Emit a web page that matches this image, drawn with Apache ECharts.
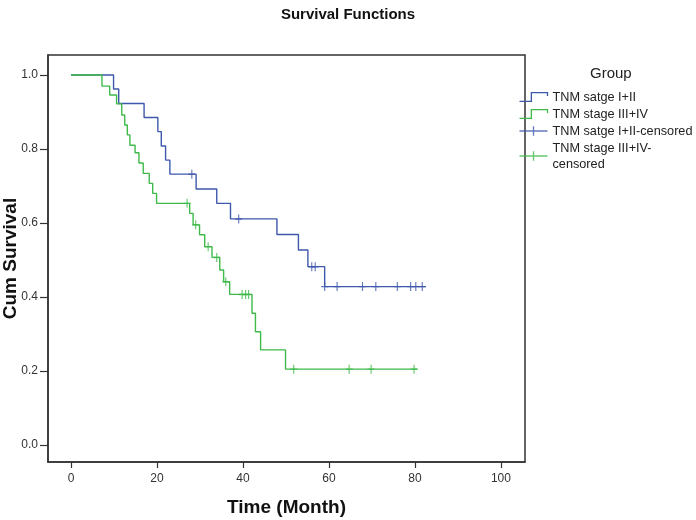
<!DOCTYPE html>
<html>
<head>
<meta charset="utf-8">
<script src="https://cdn.jsdelivr.net/npm/echarts@6/dist/echarts.min.js"></script>
<style>
html,body{margin:0;padding:0;background:#fff;}
#chart{width:696px;height:520px;}
</style>
</head>
<body>
<div id="chart"></div>
<script>
// ---- data ----
const xTicks = [0, 20, 40, 60, 80, 100];
const yTicks = [0, 0.2, 0.4, 0.6, 0.8, 1.0];

const nameA = 'TNM satge I+II';
const nameB = 'TNM stage III+IV';
const nameAc = 'TNM satge I+II-censored';
const nameBc = 'TNM stage III+IV-censored';

const blueTimes = [0, 9.9, 11.1, 17.0, 20.2, 21.0, 22.0, 23.0, 29.1, 33.9, 37.1, 47.9, 52.9, 55.1, 59.0, 82.5];
const blueSurv  = [1, 0.962, 0.923, 0.885, 0.847, 0.808, 0.770, 0.732, 0.692, 0.653, 0.611, 0.569, 0.527, 0.482, 0.428, 0.428];
const blueCensTimes = [28.1, 39.0, 56.0, 56.8, 59.0, 61.9, 67.8, 70.9, 75.9, 79.0, 80.2, 81.7];
const blueCensSurv  = [0.732, 0.611, 0.482, 0.482, 0.428, 0.428, 0.428, 0.428, 0.428, 0.428, 0.428, 0.428];

const greenTimes = [0, 7.2, 9.0, 10.6, 11.8, 12.5, 13.1, 13.7, 14.9, 15.8, 16.8, 18.2, 19.0, 19.9, 27.6, 28.4, 29.9, 31.1, 32.8, 34.6, 35.5, 36.9, 42.1, 42.9, 44.1, 49.9, 80.6];
const greenSurv  = [1, 0.970, 0.946, 0.922, 0.892, 0.865, 0.838, 0.810, 0.790, 0.762, 0.734, 0.707, 0.680, 0.653, 0.626, 0.595, 0.568, 0.536, 0.507, 0.473, 0.441, 0.407, 0.356, 0.306, 0.257, 0.205, 0.205];
const greenCensTimes = [27.0, 29.0, 31.9, 33.9, 36.0, 39.8, 40.6, 41.3, 51.8, 64.7, 69.8, 79.8];
const greenCensSurv  = [0.653, 0.595, 0.536, 0.507, 0.441, 0.407, 0.407, 0.407, 0.205, 0.205, 0.205, 0.205];

// ---- styling ----
const blue = '#3e58ac';
const green = '#3fba4a';
const font = 'Liberation Sans, Arial, sans-serif';
const zip = (a, b) => a.map((v, i) => [v, b[i]]);

const stepIcon = 'path://M0,9 L11,9 L11,1 L26,1 L26,4';
const censIcon = 'path://M0,5 L30,5 M15,0 L15,10';
const plusSym = 'path://M5,0 L5,10 M0,5 L10,5';

const chart = echarts.init(document.getElementById('chart'), null, {renderer: 'canvas'});
chart.setOption({
  backgroundColor: '#ffffff',
  animation: false,
  title: [
    {text: 'Survival Functions', left: 'center', top: 2,
     textStyle: {fontFamily: font, fontSize: 15, fontWeight: 'bold', color: '#111'}},
    {text: 'Group', left: 585, top: 61,
     textStyle: {fontFamily: font, fontSize: 15, fontWeight: 'normal', color: '#222'}}
  ],
  grid: {left: 48, top: 55, right: 171, bottom: 58, show: true,
         containLabel: false, outerBoundsMode: 'none',
         borderColor: '#333', borderWidth: 1.5, backgroundColor: '#fff'},
  legend: {
    orient: 'vertical', left: 517, top: 89, padding: 0, itemWidth: 28, itemHeight: 10, itemGap: 1,
    selectedMode: false,
    textStyle: {fontFamily: font, fontSize: 12.7, color: '#222', lineHeight: 16},
    formatter: n => n === nameBc ? 'TNM stage III+IV-\ncensored' : n,
    data: [
      {name: nameA, icon: stepIcon, itemStyle: {color: 'none', borderColor: blue, borderWidth: 1.3}},
      {name: nameB, icon: stepIcon, itemStyle: {color: 'none', borderColor: green, borderWidth: 1.3}},
      {name: nameAc, icon: censIcon, itemStyle: {color: 'none', borderColor: blue, borderWidth: 1.3}},
      {name: nameBc, icon: censIcon, itemStyle: {color: 'none', borderColor: green, borderWidth: 1.3}}
    ]
  },
  xAxis: {
    type: 'value', min: -5.35, max: 105.6,
    name: 'Time (Month)', nameLocation: 'middle', nameGap: 36, nameMoveOverlap: false,
    nameTextStyle: {fontFamily: font, fontSize: 19, fontWeight: 'bold', color: '#111'},
    axisLine: {show: true, onZero: false, lineStyle: {color: '#333', width: 1.5}},
    axisTick: {show: true, length: 6, customValues: xTicks, lineStyle: {color: '#333', width: 1.2}},
    axisLabel: {customValues: xTicks, margin: 11, fontFamily: font, fontSize: 12, color: '#333'},
    splitLine: {show: false}
  },
  yAxis: {
    type: 'value', min: -0.046, max: 1.054,
    name: 'Cum Survival', nameLocation: 'middle', nameGap: 28, nameRotate: 90, nameMoveOverlap: false,
    nameTextStyle: {fontFamily: font, fontSize: 19, fontWeight: 'bold', color: '#111'},
    axisLine: {show: true, onZero: false, lineStyle: {color: '#333', width: 1.5}},
    axisTick: {show: true, length: 8, customValues: yTicks, lineStyle: {color: '#333', width: 1.2}},
    axisLabel: {customValues: yTicks, margin: 10, fontFamily: font, fontSize: 12, color: '#333',
                formatter: v => v.toFixed(1)},
    splitLine: {show: false}
  },
  series: [
    {name: nameA, type: 'line', step: 'end', symbol: 'none', data: zip(blueTimes, blueSurv),
     color: blue, lineStyle: {color: blue, width: 1.4}},
    {name: nameB, type: 'line', step: 'end', symbol: 'none', data: zip(greenTimes, greenSurv),
     color: green, lineStyle: {color: green, width: 1.4}},
    {name: nameAc, type: 'scatter', symbol: plusSym, symbolSize: [7, 9],
     data: zip(blueCensTimes, blueCensSurv), color: blue,
     itemStyle: {color: 'none', borderColor: blue, borderWidth: 1.3}},
    {name: nameBc, type: 'scatter', symbol: plusSym, symbolSize: [7, 9],
     data: zip(greenCensTimes, greenCensSurv), color: green,
     itemStyle: {color: 'none', borderColor: green, borderWidth: 1.3}}
  ]
});
</script>
</body>
</html>
